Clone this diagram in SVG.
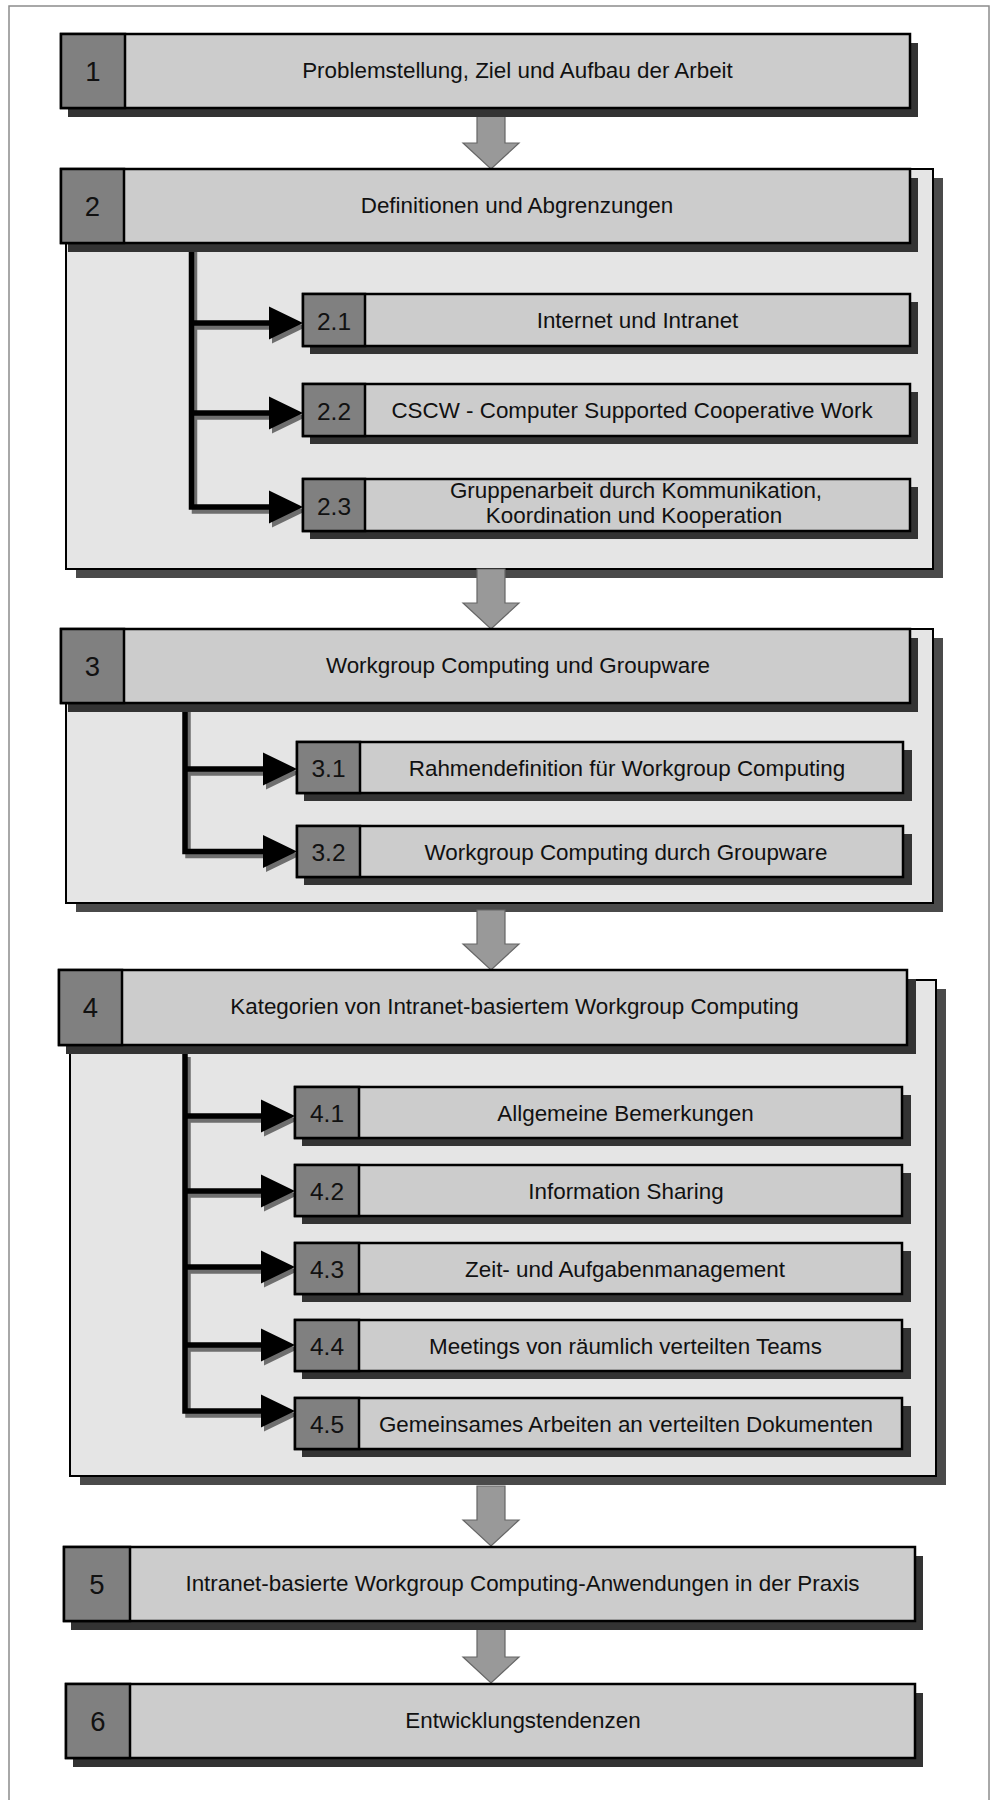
<svg xmlns="http://www.w3.org/2000/svg" width="996" height="1800" viewBox="0 0 996 1800">
  <defs>
    <style>
      .page{fill:none;stroke:#8c8c8c;stroke-width:1.5}
      .panel{fill:#e5e5e5;stroke:#000;stroke-width:2}
      .panel-sh{fill:#4a4a4a}
      .sh{fill:#333}
      .num{fill:#808080;stroke:#000;stroke-width:2.5}
      .lab{fill:#cccccc;stroke:#000;stroke-width:2.5}
      .t{font-family:"Liberation Sans",Arial,sans-serif;font-size:22.4px;fill:#111;text-anchor:middle}
      .n{font-family:"Liberation Sans",Arial,sans-serif;font-size:27.5px;fill:#111;text-anchor:middle}
      .sn{font-family:"Liberation Sans",Arial,sans-serif;font-size:24.5px;fill:#111;text-anchor:middle}
      .flow{fill:#999;stroke:#666;stroke-width:1.2}
      .trunk{stroke:#000;stroke-width:5.5;fill:none;stroke-linejoin:miter}
      .trunk-sh{stroke:#6e6e6e;stroke-width:5.5;fill:none;stroke-linejoin:miter}
      .head{fill:#000}
      .head-sh{fill:#6e6e6e}
    </style>
    <!-- block arrow between chapters, tip at (0,0) -->
    <path id="flowArrow" d="M-14,-60 H14 V-26 H28 L0,0 L-28,-26 H-14 Z"/>
    <!-- branch arrowhead, tip at (0,0) -->
    <path id="tip" d="M0,0 L-34,-16.5 L-34,16.5 Z"/>
  </defs>

  <rect class="page" x="9" y="6" width="980" height="1820"/>

  <!-- section panels -->
  <g id="panel-2">
    <rect class="panel-sh" x="76" y="178" width="867" height="400"/>
    <rect class="panel" x="66" y="169" width="867" height="400"/>
  </g>
  <g id="panel-3">
    <rect class="panel-sh" x="76" y="638" width="867" height="274"/>
    <rect class="panel" x="66" y="629" width="867" height="274"/>
  </g>
  <g id="panel-4">
    <rect class="panel-sh" x="80" y="989" width="866" height="496"/>
    <rect class="panel" x="70" y="980" width="866" height="496"/>
  </g>

  <!-- connectors -->
  <g id="connectors">
    <!-- chapter flow -->
    <use href="#flowArrow" class="flow" x="491" y="169"/>
    <use href="#flowArrow" class="flow" x="491" y="629"/>
    <use href="#flowArrow" class="flow" x="491" y="970"/>
    <use href="#flowArrow" class="flow" x="491" y="1546"/>
    <use href="#flowArrow" class="flow" x="491" y="1683"/>

    <!-- chapter 2 branches -->
    <g transform="translate(3,4)">
      <path class="trunk-sh" d="M191.5,248 V507 H270 M191.5,323 H270 M191.5,413 H270"/>
      <use href="#tip" class="head-sh" x="303" y="323"/>
      <use href="#tip" class="head-sh" x="303" y="413"/>
      <use href="#tip" class="head-sh" x="303" y="507"/>
    </g>
    <path class="trunk" d="M191.5,248 V507 H270 M191.5,323 H270 M191.5,413 H270"/>
    <use href="#tip" class="head" x="303" y="323"/>
    <use href="#tip" class="head" x="303" y="413"/>
    <use href="#tip" class="head" x="303" y="507"/>

    <!-- chapter 3 branches -->
    <g transform="translate(3,4)">
      <path class="trunk-sh" d="M185,707 V851.5 H264 M185,769 H264"/>
      <use href="#tip" class="head-sh" x="297" y="769"/>
      <use href="#tip" class="head-sh" x="297" y="851.5"/>
    </g>
    <path class="trunk" d="M185,707 V851.5 H264 M185,769 H264"/>
    <use href="#tip" class="head" x="297" y="769"/>
    <use href="#tip" class="head" x="297" y="851.5"/>

    <!-- chapter 4 branches -->
    <g transform="translate(3,4)">
      <path class="trunk-sh" d="M185,1053 V1411 H262 M185,1116 H262 M185,1191 H262 M185,1267 H262 M185,1345 H262"/>
      <use href="#tip" class="head-sh" x="295" y="1116"/>
      <use href="#tip" class="head-sh" x="295" y="1191"/>
      <use href="#tip" class="head-sh" x="295" y="1267"/>
      <use href="#tip" class="head-sh" x="295" y="1345"/>
      <use href="#tip" class="head-sh" x="295" y="1411"/>
    </g>
    <path class="trunk" d="M185,1053 V1411 H262 M185,1116 H262 M185,1191 H262 M185,1267 H262 M185,1345 H262"/>
    <use href="#tip" class="head" x="295" y="1116"/>
    <use href="#tip" class="head" x="295" y="1191"/>
    <use href="#tip" class="head" x="295" y="1267"/>
    <use href="#tip" class="head" x="295" y="1345"/>
    <use href="#tip" class="head" x="295" y="1411"/>
  </g>

  <!-- chapter boxes -->
  <g id="node-1">
    <rect class="sh" x="68" y="43" width="850" height="74"/>
    <rect class="lab" x="61" y="34" width="849" height="74"/>
    <rect class="num" x="61" y="34" width="64" height="74"/>
    <text class="n" x="93" y="81">1</text>
    <text class="t" x="517.5" y="77.5">Problemstellung, Ziel und Aufbau der Arbeit</text>
  </g>
  <g id="node-2">
    <rect class="sh" x="68" y="178" width="850" height="74"/>
    <rect class="lab" x="61" y="169" width="849" height="74"/>
    <rect class="num" x="61" y="169" width="63" height="74"/>
    <text class="n" x="92.5" y="216">2</text>
    <text class="t" x="517" y="212.5">Definitionen und Abgrenzungen</text>
  </g>
  <g id="node-2-1">
    <rect class="sh" x="310" y="302" width="608" height="52"/>
    <rect class="lab" x="303" y="294" width="607" height="52"/>
    <rect class="num" x="303" y="294" width="62" height="52"/>
    <text class="sn" x="334" y="329.5">2.1</text>
    <text class="t" x="637.5" y="328">Internet und Intranet</text>
  </g>
  <g id="node-2-2">
    <rect class="sh" x="310" y="392" width="608" height="52"/>
    <rect class="lab" x="303" y="384" width="607" height="52"/>
    <rect class="num" x="303" y="384" width="62" height="52"/>
    <text class="sn" x="334" y="419.5">2.2</text>
    <text class="t" x="632" y="418">CSCW - Computer Supported Cooperative Work</text>
  </g>
  <g id="node-2-3">
    <rect class="sh" x="310" y="487" width="608" height="52"/>
    <rect class="lab" x="303" y="479" width="607" height="52"/>
    <rect class="num" x="303" y="479" width="62" height="52"/>
    <text class="sn" x="334" y="514.5">2.3</text>
    <text class="t" x="636" y="498">Gruppenarbeit durch Kommunikation,</text>
    <text class="t" x="634" y="523">Koordination und Kooperation</text>
  </g>
  <g id="node-3">
    <rect class="sh" x="68" y="638" width="850" height="74"/>
    <rect class="lab" x="61" y="629" width="849" height="74"/>
    <rect class="num" x="61" y="629" width="63" height="74"/>
    <text class="n" x="92.5" y="676">3</text>
    <text class="t" x="518" y="672.5">Workgroup Computing und Groupware</text>
  </g>
  <g id="node-3-1">
    <rect class="sh" x="304" y="750" width="608" height="51"/>
    <rect class="lab" x="297" y="742" width="606" height="51"/>
    <rect class="num" x="297" y="742" width="63" height="51"/>
    <text class="sn" x="328.5" y="777">3.1</text>
    <text class="t" x="627" y="776">Rahmendefinition für Workgroup Computing</text>
  </g>
  <g id="node-3-2">
    <rect class="sh" x="304" y="834" width="608" height="51"/>
    <rect class="lab" x="297" y="826" width="606" height="51"/>
    <rect class="num" x="297" y="826" width="63" height="51"/>
    <text class="sn" x="328.5" y="861">3.2</text>
    <text class="t" x="626" y="860">Workgroup Computing durch Groupware</text>
  </g>
  <g id="node-4">
    <rect class="sh" x="66" y="979" width="850" height="75"/>
    <rect class="lab" x="59" y="970" width="848" height="75"/>
    <rect class="num" x="59" y="970" width="63" height="75"/>
    <text class="n" x="90.5" y="1017">4</text>
    <text class="t" x="514.5" y="1013.5">Kategorien von Intranet-basiertem Workgroup Computing</text>
  </g>
  <g id="node-4-1">
    <rect class="sh" x="302" y="1095" width="609" height="51"/>
    <rect class="lab" x="295" y="1087" width="607" height="51"/>
    <rect class="num" x="295" y="1087" width="64" height="51"/>
    <text class="sn" x="327" y="1122">4.1</text>
    <text class="t" x="625.5" y="1121">Allgemeine Bemerkungen</text>
  </g>
  <g id="node-4-2">
    <rect class="sh" x="302" y="1173" width="609" height="51"/>
    <rect class="lab" x="295" y="1165" width="607" height="51"/>
    <rect class="num" x="295" y="1165" width="64" height="51"/>
    <text class="sn" x="327" y="1200">4.2</text>
    <text class="t" x="626" y="1199">Information Sharing</text>
  </g>
  <g id="node-4-3">
    <rect class="sh" x="302" y="1251" width="609" height="51"/>
    <rect class="lab" x="295" y="1243" width="607" height="51"/>
    <rect class="num" x="295" y="1243" width="64" height="51"/>
    <text class="sn" x="327" y="1278">4.3</text>
    <text class="t" x="625" y="1277">Zeit- und Aufgabenmanagement</text>
  </g>
  <g id="node-4-4">
    <rect class="sh" x="302" y="1328" width="609" height="51"/>
    <rect class="lab" x="295" y="1320" width="607" height="51"/>
    <rect class="num" x="295" y="1320" width="64" height="51"/>
    <text class="sn" x="327" y="1355">4.4</text>
    <text class="t" x="625.5" y="1354">Meetings von räumlich verteilten Teams</text>
  </g>
  <g id="node-4-5">
    <rect class="sh" x="302" y="1406" width="609" height="51"/>
    <rect class="lab" x="295" y="1398" width="607" height="51"/>
    <rect class="num" x="295" y="1398" width="64" height="51"/>
    <text class="sn" x="327" y="1433">4.5</text>
    <text class="t" x="626" y="1432">Gemeinsames Arbeiten an verteilten Dokumenten</text>
  </g>
  <g id="node-5">
    <rect class="sh" x="71" y="1556" width="852" height="74"/>
    <rect class="lab" x="64" y="1547" width="851" height="74"/>
    <rect class="num" x="64" y="1547" width="66" height="74"/>
    <text class="n" x="97" y="1594">5</text>
    <text class="t" x="522.5" y="1590.5">Intranet-basierte Workgroup Computing-Anwendungen in der Praxis</text>
  </g>
  <g id="node-6">
    <rect class="sh" x="73" y="1693" width="850" height="74"/>
    <rect class="lab" x="66" y="1684" width="849" height="74"/>
    <rect class="num" x="66" y="1684" width="64" height="74"/>
    <text class="n" x="98" y="1731">6</text>
    <text class="t" x="523" y="1727.5">Entwicklungstendenzen</text>
  </g>
</svg>
